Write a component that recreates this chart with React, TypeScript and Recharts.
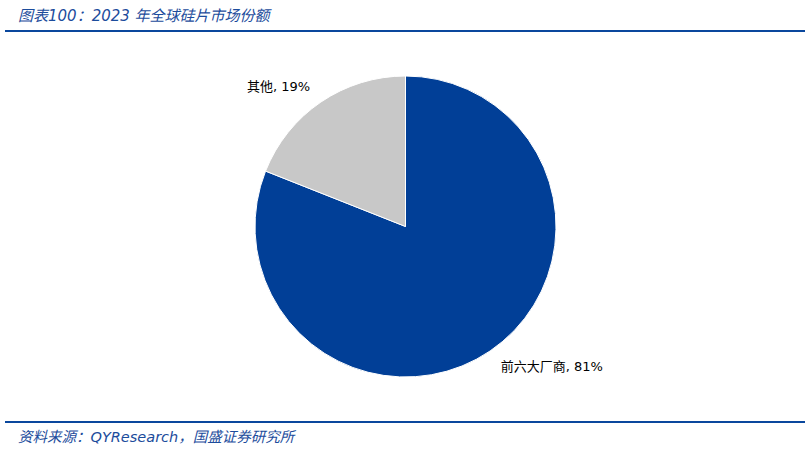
import { PieChart, Pie, Cell } from 'recharts'

const segments = ['前六大厂商', '其他']
const shares = [81, 19]
const colors = ['#013F97', '#C8C8C8']

const data = segments.map((name, i) => ({ name, value: shares[i] }))

const RAD = Math.PI / 180

const renderLabel = (props: any) => {
  const { cx, cy, midAngle, outerRadius, name, value } = props
  const r = outerRadius + 19
  const x = cx + r * Math.cos(-midAngle * RAD)
  const y = cy + r * Math.sin(-midAngle * RAD)
  return (
    <text
      x={x}
      y={y}
      textAnchor={x > cx ? 'start' : 'end'}
      dominantBaseline="central"
      fill="#000"
      fontSize={13}
      fontFamily="'DejaVu Sans', 'Noto Sans CJK SC', sans-serif"
    >
      {`${name}, ${value}%`}
    </text>
  )
}

export default function App() {
  return (
    <div
      style={{
        position: 'absolute',
        left: 0,
        top: 0,
        width: 810,
        height: 449,
        background: '#fff',
        fontFamily: "'DejaVu Sans', 'Noto Sans CJK SC', sans-serif",
      }}
    >
      <div
        style={{
          position: 'absolute',
          left: 18,
          top: 4,
          fontSize: 15,
          fontStyle: 'italic',
          color: '#1C4C9C',
          whiteSpace: 'nowrap',
        }}
      >
        图表100：2023 年全球硅片市场份额
      </div>
      <div style={{ position: 'absolute', left: 5, top: 30, width: 800, height: 2, background: '#0A479D' }} />

      <div style={{ position: 'absolute', left: 0, top: 0 }}>
        <PieChart width={810} height={449} margin={{ top: 0, right: 0, bottom: 0, left: 0 }}>
          <Pie
            data={data}
            dataKey="value"
            nameKey="name"
            cx={405.5}
            cy={226.5}
            outerRadius={150.5}
            startAngle={90}
            endAngle={-270}
            stroke="#fff"
            strokeWidth={1}
            label={renderLabel}
            labelLine={false}
            isAnimationActive={false}
          >
            {data.map((d, i) => (
              <Cell key={d.name} fill={colors[i]} />
            ))}
          </Pie>
        </PieChart>
      </div>

      <div style={{ position: 'absolute', left: 5, top: 421, width: 800, height: 2, background: '#0A479D' }} />
      <div
        style={{
          position: 'absolute',
          left: 18,
          top: 425,
          fontSize: 14.5,
          fontStyle: 'italic',
          color: '#1C4C9C',
          whiteSpace: 'nowrap',
        }}
      >
        资料来源：QYResearch，国盛证券研究所
      </div>
    </div>
  )
}
